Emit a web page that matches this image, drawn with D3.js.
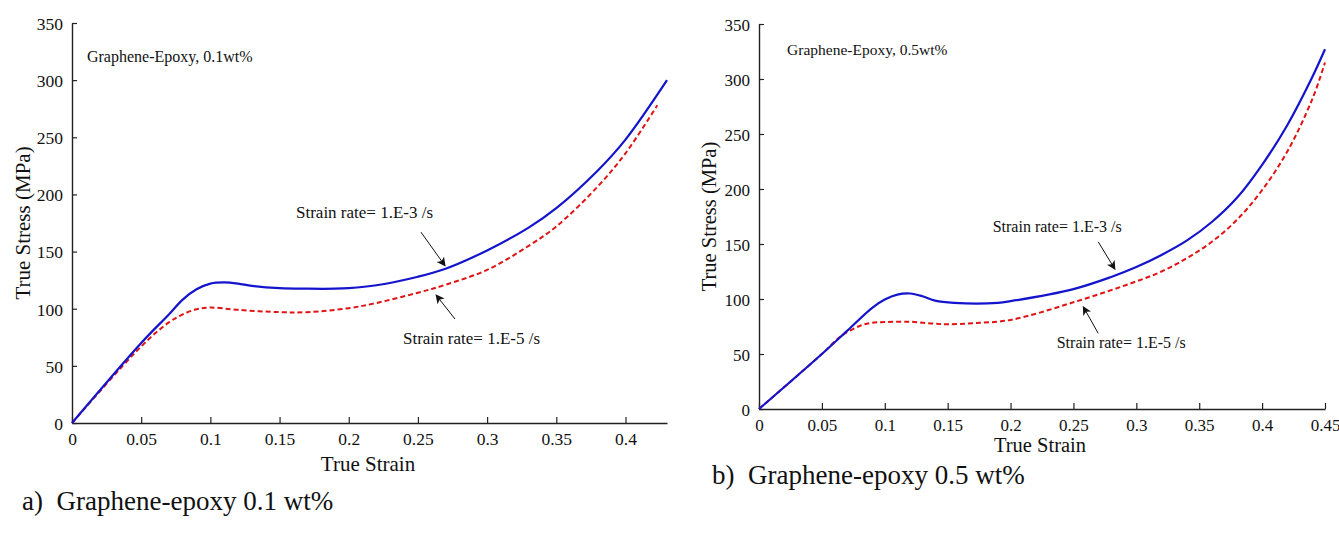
<!DOCTYPE html>
<html>
<head>
<meta charset="utf-8">
<script src="https://cdnjs.cloudflare.com/ajax/libs/d3/7.8.5/d3.min.js"></script>
<style>
  html, body { margin: 0; padding: 0; background: #fff; }
  svg { display: block; }
  text { font-family: "Liberation Serif", "Times New Roman", serif; fill: #111; }
</style>
</head>
<body>
<svg id="chart" width="1339" height="536"></svg>
<script>
// ---------- Data ----------
const yTicks = [0, 50, 100, 150, 200, 250, 300, 350];
const xTicksA = [0, 0.05, 0.1, 0.15, 0.2, 0.25, 0.3, 0.35, 0.4];
const xTicksB = [0, 0.05, 0.1, 0.15, 0.2, 0.25, 0.3, 0.35, 0.4, 0.45];

// Panel a) 0.1 wt%
const strainA_fast = [0, 0.05, 0.07, 0.08, 0.09, 0.1, 0.11, 0.12, 0.13, 0.15, 0.17, 0.19, 0.2, 0.22, 0.25, 0.27, 0.3, 0.33, 0.35, 0.38, 0.4, 0.43];
const stressA_fast = [0, 70, 95, 108, 117, 122, 123, 122, 120, 118, 117.5, 117.5, 118, 120.5, 128, 135, 151, 171, 188, 221, 248, 300];
const strainA_slow = [0, 0.05, 0.07, 0.08, 0.09, 0.1, 0.12, 0.15, 0.17, 0.2, 0.22, 0.25, 0.27, 0.3, 0.33, 0.35, 0.38, 0.4, 0.423];
const stressA_slow = [0, 67, 88, 95, 99.5, 101, 99, 97, 97, 100.5, 105, 114, 121, 134, 155, 172, 207, 236, 278];

// Panel b) 0.5 wt%
const strainB_fast = [0, 0.05, 0.07, 0.09, 0.1, 0.11, 0.12, 0.13, 0.14, 0.155, 0.19, 0.2, 0.25, 0.28, 0.3, 0.32, 0.34, 0.36, 0.38, 0.4, 0.42, 0.44, 0.45];
const stressB_fast = [0, 50, 71, 92, 99.5, 104, 105, 102.5, 98.5, 96.5, 96.5, 98, 109, 120, 129, 140, 153, 170, 192, 222, 258, 302, 327];
const strainB_slow = [0, 0.05, 0.065, 0.08, 0.09, 0.1, 0.12, 0.14, 0.15, 0.17, 0.2, 0.25, 0.3, 0.32, 0.34, 0.36, 0.38, 0.4, 0.42, 0.44, 0.45];
const stressB_slow = [0, 50, 66, 75.5, 78.5, 79, 79.3, 77.5, 77, 78, 81, 97, 116, 125, 137, 152, 172, 199, 234, 282, 315];

const labelFast = "Strain rate= 1.E-3 /s";
const labelSlow = "Strain rate= 1.E-5 /s";
const titleA = "Graphene-Epoxy, 0.1wt%";
const titleB = "Graphene-Epoxy, 0.5wt%";
const captionA = "a)\u00A0\u00A0Graphene-epoxy 0.1 wt%";
const captionB = "b)\u00A0\u00A0Graphene-epoxy 0.5 wt%";
const xTitle = "True Strain";
const yTitle = "True Stress (MPa)";

// ---------- Drawing ----------
const FONT = '"Liberation Serif", "Times New Roman", serif';
const svg = d3.select("#chart");
const defs = svg.append("defs");
defs.append("marker")
  .attr("id", "arrow")
  .attr("viewBox", "0 0 10 10")
  .attr("refX", 9).attr("refY", 5)
  .attr("markerWidth", 11).attr("markerHeight", 9)
  .attr("markerUnits", "userSpaceOnUse")
  .attr("orient", "auto")
  .append("path").attr("d", "M0,0 L10,5 L0,10 L2.5,5 Z").attr("fill", "#111");

function panel(cfg) {
  const x = d3.scaleLinear().domain(cfg.xDomain).range(cfg.xRange);
  const y = d3.scaleLinear().domain([0, 350]).range(cfg.yRange);
  const g = svg.append("g");

  // axes
  const yAxis = d3.axisLeft(y).tickValues(yTicks).tickSizeInner(-5).tickSizeOuter(0).tickPadding(9).tickFormat(d3.format("d"));
  const xAxis = d3.axisBottom(x).tickValues(cfg.xTicks).tickSizeInner(-6).tickSizeOuter(0).tickPadding(10).tickFormat(d => d === 0 ? "0" : d3.format("")(d));
  const ya = g.append("g").attr("transform", `translate(${cfg.xRange[0]},0)`).call(yAxis);
  const xa = g.append("g").attr("transform", `translate(0,${cfg.yRange[0]})`).call(xAxis);
  [ya, xa].forEach(a => {
    a.attr("font-family", FONT).attr("font-size", cfg.tickFont);
    a.select(".domain").attr("stroke", "#222").attr("stroke-width", 1.4);
    a.selectAll(".tick line").attr("stroke", "#222").attr("stroke-width", 1.2);
    a.selectAll(".tick text").attr("fill", "#111");
  });
  ya.selectAll(".tick text").attr("dy", "0.36em");

  // curves
  const line = d3.line().x(d => x(d[0])).y(d => y(d[1])).curve(d3.curveCatmullRom.alpha(0.5));
  g.append("path").datum(d3.zip(cfg.slowX, cfg.slowY))
    .attr("d", line).attr("fill", "none").attr("stroke", "#e01414")
    .attr("stroke-width", 2).attr("stroke-dasharray", "5,3");
  g.append("path").datum(d3.zip(cfg.fastX, cfg.fastY))
    .attr("d", line).attr("fill", "none").attr("stroke", "#1414cc")
    .attr("stroke-width", 2.2);

  // inner title
  g.append("text").attr("x", x(cfg.title[0])).attr("y", y(cfg.title[1]))
    .attr("font-size", cfg.titleFont).text(cfg.titleText);

  // annotations
  cfg.notes.forEach(n => {
    g.append("text").attr("x", x(n.text[0])).attr("y", y(n.text[1]))
      .attr("font-size", cfg.noteFont).text(n.label);
    g.append("line")
      .attr("x1", x(n.tail[0])).attr("y1", y(n.tail[1]))
      .attr("x2", x(n.tip[0])).attr("y2", y(n.tip[1]))
      .attr("stroke", "#111").attr("stroke-width", 1)
      .attr("marker-end", "url(#arrow)");
  });

  // axis titles
  g.append("text").attr("x", cfg.xTitleX).attr("y", cfg.xTitleY)
    .attr("text-anchor", "middle").attr("font-size", cfg.axisFont).text(xTitle);
  g.append("text")
    .attr("transform", `translate(${cfg.yTitleX},${(cfg.yRange[0] + cfg.yRange[1]) / 2}) rotate(-90)`)
    .attr("text-anchor", "middle").attr("font-size", cfg.axisFont).text(yTitle);

  // caption
  svg.append("text").attr("x", cfg.caption[0]).attr("y", cfg.caption[1])
    .attr("font-size", 27).text(cfg.captionText);
}

panel({
  xDomain: [0, 0.43], xRange: [72, 667], yRange: [423, 23], xTicks: xTicksA,
  fastX: strainA_fast, fastY: stressA_fast, slowX: strainA_slow, slowY: stressA_slow,
  title: [0.0108, 316], titleText: titleA, titleFont: 16,
  notes: [
    { label: labelFast, text: [0.1619, 179], tail: [0.2522, 167], tip: [0.2696, 137.5] },
    { label: labelSlow, text: [0.2392, 69], tail: [0.2768, 91], tip: [0.2631, 112] }
  ],
  tickFont: 17.5, noteFont: 17, axisFont: 21,
  xTitleX: 368, xTitleY: 471, yTitleX: 30,
  caption: [22, 510], captionText: captionA
});

panel({
  xDomain: [0, 0.45], xRange: [759, 1325], yRange: [409, 24], xTicks: xTicksB,
  fastX: strainB_fast, fastY: stressB_fast, slowX: strainB_slow, slowY: stressB_slow,
  title: [0.0223, 321.8], titleText: titleB, titleFont: 15.5,
  notes: [
    { label: labelFast, text: [0.1858, 161.2], tail: [0.2697, 152], tip: [0.283, 127] },
    { label: labelSlow, text: [0.2367, 55.2], tail: [0.2697, 68.8], tip: [0.2578, 93] }
  ],
  tickFont: 17, noteFont: 16, axisFont: 20.5,
  xTitleX: 1040, xTitleY: 452, yTitleX: 716,
  caption: [712, 484], captionText: captionB
});
</script>
</body>
</html>
